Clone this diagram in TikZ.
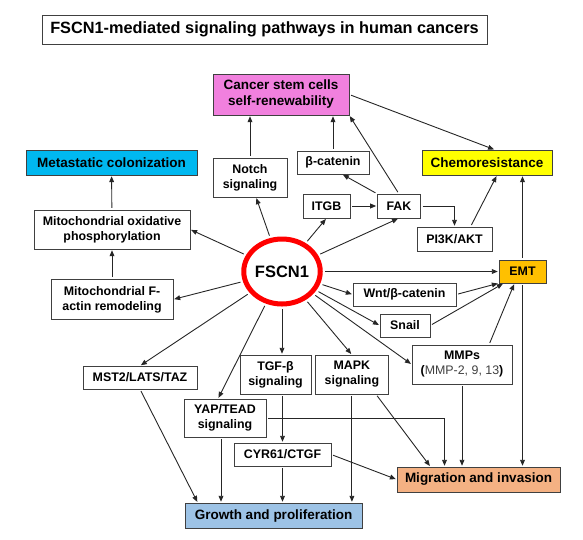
\documentclass[tikz,border=0pt]{standalone}
\usepackage{fontspec}
\setmainfont{Liberation Sans}
\usepackage{xcolor}
\usepackage{tikz}
\usetikzlibrary{positioning, arrows.meta, shapes.geometric}

\definecolor{stemcol}{RGB}{241,128,222}
\definecolor{metacol}{RGB}{0,184,240}
\definecolor{chemocol}{RGB}{255,255,0}
\definecolor{emtcol}{RGB}{255,192,0}
\definecolor{migcol}{RGB}{244,177,131}
\definecolor{growcol}{RGB}{157,195,230}

\begin{document}
\begin{tikzpicture}[
    x=1pt, y=-1pt,
    box/.style={rectangle, draw=black!75, fill=white, align=center, inner sep=1pt, font=\bfseries\fontsize{12.4}{15}\selectfont},
    bigbox/.style={box, font=\bfseries\fontsize{13.5}{16}\selectfont},
    sz/.style 2 args={minimum width=#1pt, minimum height=#2pt},
    arrow/.style={->, >={Triangle[length=6pt, width=4.8pt]}, line width=0.9pt, color=black!85, shorten <=2pt, shorten >=1pt}
]
\useasboundingbox (0,0) rectangle (583,539);

% Title
\node[box, sz={445}{29}, font=\bfseries\fontsize{16.3}{19}\selectfont] (title) at (264.5,29.5) {FSCN1-mediated signaling pathways in human cancers};

% Center: FSCN1
\node[ellipse, draw=red, line width=5pt, fill=white, minimum width=72pt, minimum height=65pt, inner sep=0pt, outer sep=3pt, font=\bfseries\fontsize{16.5}{18}\selectfont] (fscn) at (282,271.5) {FSCN1};

% Outcomes
\node[bigbox, fill=stemcol, sz={136}{41}] (stem) at (281,94.5) {Cancer stem cells\\self-renewability};
\node[bigbox, fill=metacol, sz={171}{25}] (meta) at (111.5,162.5) {Metastatic colonization};
\node[bigbox, fill=chemocol, sz={130}{25}] (chemo) at (487,162.5) {Chemoresistance};
\node[box, fill=emtcol, sz={47}{23}] (emt) at (522.5,271.5) {EMT};
\node[bigbox, fill=migcol, sz={163}{25}] (mig) at (478.5,479.5) {Migration and invasion};
\node[bigbox, fill=growcol, sz={177}{25}] (growth) at (273.5,515.5) {Growth and proliferation};

% Left column: mitochondria
\node[box, sz={156}{39}] (oxphos) at (112,229.5) {Mitochondrial oxidative\\phosphorylation};
\node[box, sz={122}{40}, below=30pt of oxphos] (factin) {Mitochondrial F-\\actin remodeling};

% Upper middle
\node[box, sz={74}{39}] (notch) at (250,177.5) {Notch\\signaling};
\node[box, sz={72}{23}] (bcat) at (333,162.5) {β-catenin};
\node[box, sz={47}{24}] (itgb) at (326.5,206) {ITGB};
\node[box, sz={43}{24}, right=27pt of itgb] (fak) {FAK};
\node[box, sz={75}{24}] (pik) at (454.5,239) {PI3K/AKT};

% Right side
\node[box, sz={103}{23}] (wnt) at (404.5,294.5) {Wnt/β-catenin};
\node[box, sz={50}{23}] (snail) at (405,325.5) {Snail};
\node[box, sz={100}{39}] (mmp) at (462,364.5) {MMPs\\({\mdseries\color{black!75}MMP-2, 9, 13})};

% Lower part
\node[box, sz={114}{23}] (mst) at (140,377.5) {MST2/LATS/TAZ};
\node[box, sz={71}{39}] (tgf) at (275.5,374.5) {TGF-β\\signaling};
\node[box, sz={73}{39}, right=4pt of tgf] (mapk) {MAPK\\signaling};
\node[box, sz={82}{38}] (yap) at (225,418) {YAP/TEAD\\signaling};
\node[box, sz={97}{23}] (cyr) at (282.5,454.5) {CYR61/CTGF};

% Arrows from FSCN1
\draw[arrow] (fscn) -- ([xshift=6pt]notch.south);
\draw[arrow] (fscn) -- (itgb.south);
\draw[arrow] (fscn) -- (fak.south);
\draw[arrow] (fscn) -- (emt);
\draw[arrow] (fscn) -- (wnt.west);
\draw[arrow] (fscn) -- (snail.west);
\draw[arrow] (fscn) -- (mmp.west);
\draw[arrow] (fscn) -- (mapk.north);
\draw[arrow] (fscn) -- (fscn |- tgf.north);
\draw[arrow] (fscn) -- ([xshift=-7pt]yap.north);
\draw[arrow] (fscn) -- (mst.north);
\draw[arrow] (fscn) -- (factin.east);
\draw[arrow] (fscn) -- (oxphos.east);

% Mitochondria
\draw[arrow] (factin) -- (oxphos);
\draw[arrow] (oxphos) -- (meta);

% Stemness and chemoresistance
\draw[arrow] (notch) -- (notch |- stem.south);
\draw[arrow] (bcat) -- (bcat |- stem.south);
\draw[arrow] (fak.north) -- (stem.south east);
\draw[arrow] (fak.north west) -- ([xshift=9pt]bcat.south);
\draw[arrow] (itgb) -- (fak);
\draw[arrow] (fak.east) -| (pik.north);
\draw[arrow] ([xshift=16pt]pik.north) -- ([xshift=10pt]chemo.south);
\draw[arrow] (stem.east) -- ([xshift=8pt]chemo.north);
\draw[arrow] (emt) -- (emt |- chemo.south);

% EMT
\draw[arrow] (wnt.east) -- (emt.south west);
\draw[arrow] (snail.east) -- ([xshift=5pt]emt.south west);
\draw[arrow] ([xshift=27pt]mmp.north) -- ([xshift=-8pt]emt.south);

% Migration and invasion
\draw[arrow] (emt) -- (emt |- mig.north);
\draw[arrow] (mmp) -- (mmp |- mig.north);
\draw[arrow] ([xshift=24pt]mapk.south) -- ([xshift=-48pt]mig.north);
\draw[arrow] (yap.east) -| ([xshift=-34pt]mig.north);
\draw[arrow] (cyr.east) -- (mig.west);

% Growth and proliferation
\draw[arrow] (cyr |- tgf.south) -- (cyr.north);
\draw[arrow] (cyr) -- (cyr |- growth.north);
\draw[arrow] (mapk) -- (mapk |- growth.north);
\draw[arrow] ([xshift=-4pt]yap.south) -- ([xshift=-4pt]yap.south |- growth.north);
\draw[arrow] (mst.south) -- ([xshift=13pt]growth.north west);

\end{tikzpicture}
\end{document}
